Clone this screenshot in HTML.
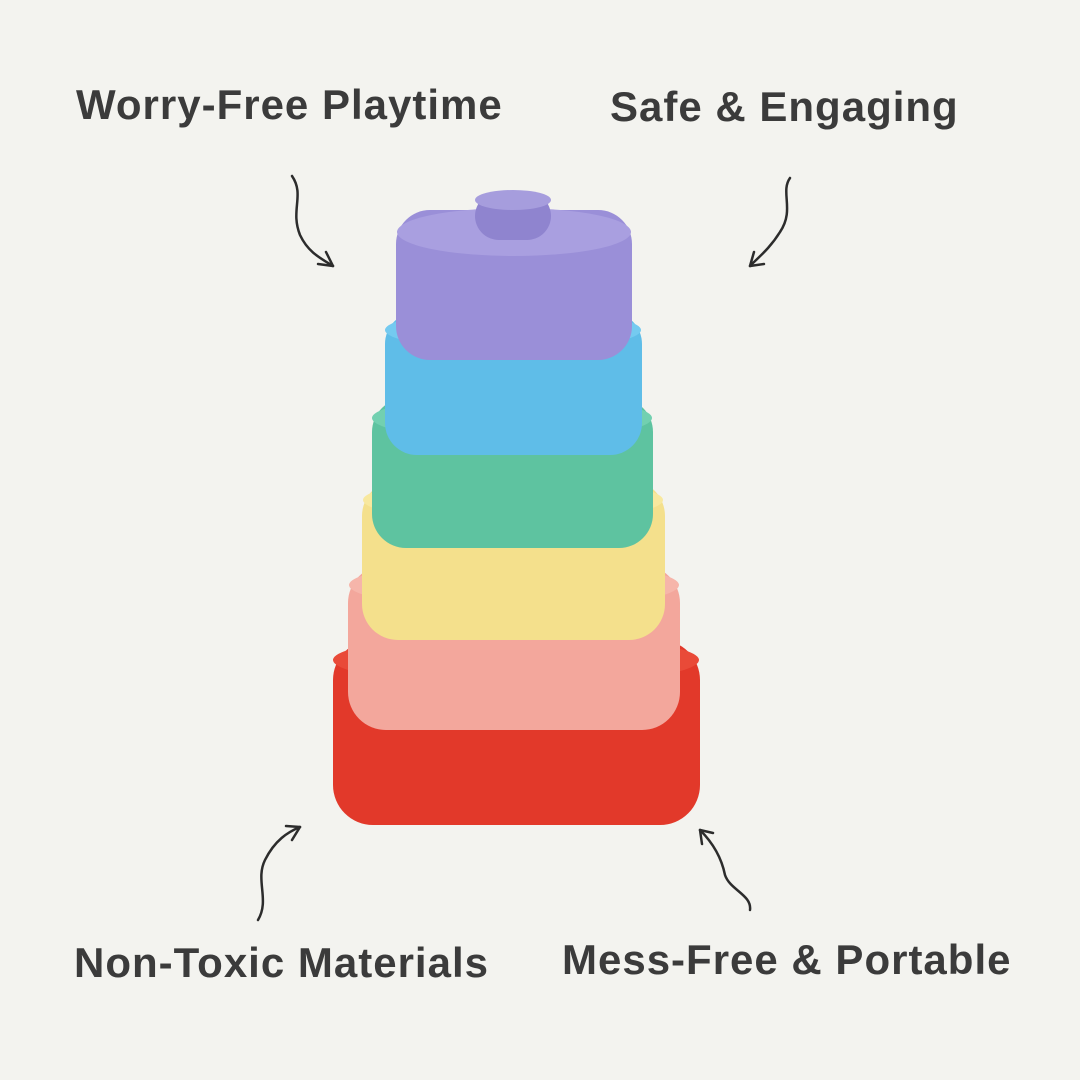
<!DOCTYPE html>
<html><head><meta charset="utf-8"><style>
html,body{margin:0;padding:0}
body{width:1080px;height:1080px;background:#f3f3ef;position:relative;overflow:hidden;font-family:"Liberation Sans","DejaVu Sans",sans-serif}
.t{position:absolute;color:#3b3b3b;font-size:42px;font-weight:bold;white-space:nowrap;letter-spacing:1px}
</style></head><body>
<div class="t" style="left:76px;top:81px">Worry-Free Playtime</div>
<div class="t" style="left:610px;top:83px">Safe &amp; Engaging</div>
<div class="t" style="left:74px;top:939px">Non-Toxic Materials</div>
<div class="t" style="left:562px;top:936px">Mess-Free &amp; Portable</div>
<svg width="1080" height="1080" style="position:absolute;left:0;top:0">
<g fill="none" stroke="#2c2c2c" stroke-width="2.5" stroke-linecap="round">
<path d="M292 176 C305 195 290 210 300 235 C308 252 320 258 333 266"/>
<path d="M333 266 L318 264 M333 266 L326 252"/>
<path d="M790 178 C780 192 795 210 780 232 C770 248 760 256 750 266"/>
<path d="M750 266 L764 264 M750 266 L754 252"/>
<path d="M258 920 C270 900 255 880 265 860 C275 840 288 832 300 827"/>
<path d="M300 827 L286 826 M300 827 L292 840"/>
<path d="M750 910 C752 895 730 890 725 875 C722 860 715 845 700 830"/>
<path d="M700 830 L702 844 M700 830 L713 833"/>
</g>
<g>
<rect x="333" y="640" width="367" height="185" rx="40" fill="#e2392a"/>
<ellipse cx="516" cy="660" rx="183" ry="25" fill="#e94a38"/>
<rect x="348" y="565" width="332" height="165" rx="38" fill="#f3a79c"/>
<ellipse cx="514" cy="585" rx="165" ry="24" fill="#f6b5aa"/>
<rect x="362" y="480" width="303" height="160" rx="36" fill="#f4e08c"/>
<ellipse cx="513" cy="500" rx="150" ry="22" fill="#f8e89e"/>
<rect x="372" y="398" width="281" height="150" rx="34" fill="#5ec3a0"/>
<ellipse cx="512" cy="418" rx="140" ry="22" fill="#72d0b0"/>
<rect x="385" y="312" width="257" height="143" rx="32" fill="#5fbde8"/>
<ellipse cx="513" cy="330" rx="128" ry="20" fill="#74caf0"/>
<rect x="396" y="210" width="236" height="150" rx="34" fill="#9a8fd8"/>
<ellipse cx="514" cy="232" rx="117" ry="24" fill="#a99fe0"/>
<rect x="475" y="192" width="76" height="48" rx="24" fill="#8f84cf"/>
<ellipse cx="513" cy="200" rx="38" ry="10" fill="#a69ddd"/>
</g>
</svg>
</body></html>
